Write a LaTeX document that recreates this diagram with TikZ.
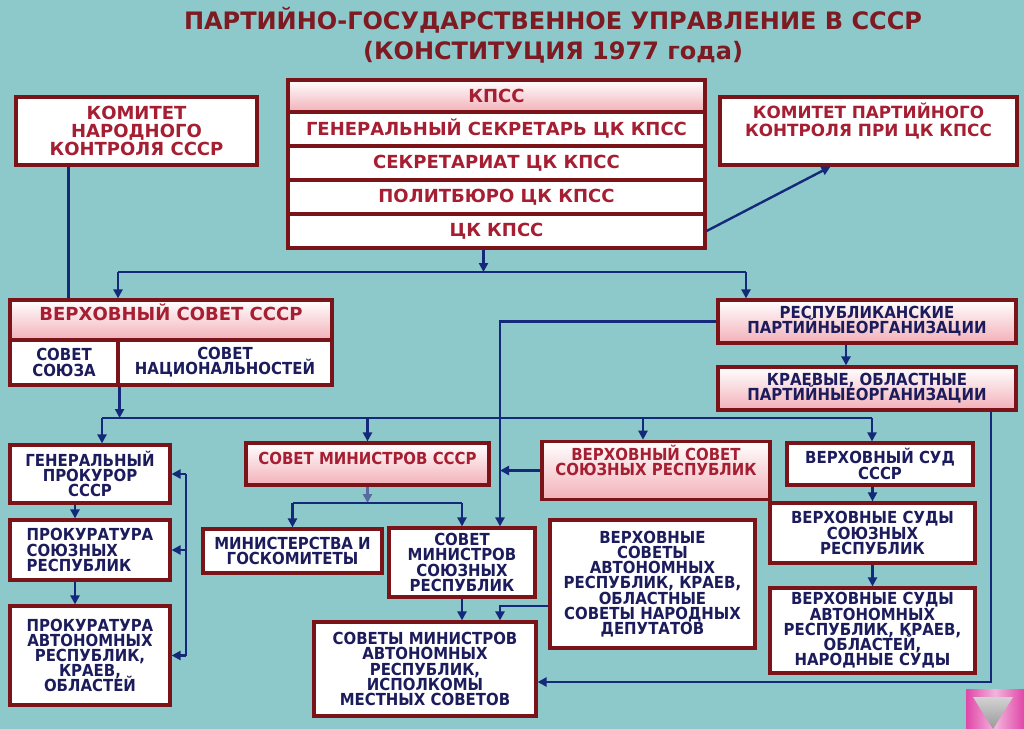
\documentclass[tikz,border=0pt]{standalone}
\usepackage{fontspec}
\setmainfont{DejaVu Sans}
\newfontfamily\narrowfont[FakeStretch=0.9]{DejaVu Sans}
\usetikzlibrary{arrows.meta,positioning}
\definecolor{bgteal}{HTML}{8DC8CA}
\definecolor{framered}{HTML}{7A1418}
\definecolor{redtext}{HTML}{A51E32}
\definecolor{titlered}{HTML}{7E1A22}
\definecolor{bluetext}{HTML}{1C1C5C}
\definecolor{linkblue}{HTML}{15297A}
\definecolor{pinkfill}{HTML}{F2B0B8}
\definecolor{btnpink}{HTML}{E046A8}
\newcommand{\tightlines}{\setlength{\lineskiplimit}{-5pt}}

\begin{document}
\begin{tikzpicture}[x=0.5pt, y=-0.5pt,
  box/.style={draw=framered, line width=1.6pt, fill=white, inner sep=2pt, align=center},
  pbox/.style={box, top color=white, bottom color=pinkfill},
  rtxt/.style={text=redtext, font=\fontsize{9}{9}\selectfont\bfseries\tightlines},
  btxt/.style={text=bluetext,
               font=\narrowfont\fontsize{8.3}{7.6}\selectfont\bfseries\tightlines},
  ntxt/.style={btxt, text=redtext},
  uptext/.style={text height=6.5pt, text depth=6.5pt},
  arr/.style={-{Triangle[length=4.5pt,width=4.5pt]}, line width=1.2pt, draw=linkblue},
  link/.style={line width=1.2pt, draw=linkblue},
]
  \useasboundingbox (0,0) rectangle (1024,729);
  \fill[bgteal] (0,0) rectangle (1024,729);

  % ── Title ─────────────────────
  \node[text=titlered, font=\fontsize{12}{15}\selectfont\bfseries, align=center]
        (title) at (553,35) {ПАРТИЙНО-ГОСУДАРСТВЕННОЕ УПРАВЛЕНИЕ В СССР\\(КОНСТИТУЦИЯ 1977 года)};

  % ── Party ─────────────────────
  \node[box, rtxt, minimum width=120.5pt, minimum height=34pt]
        (knk) at (136.5,131) {КОМИТЕТ\\НАРОДНОГО\\КОНТРОЛЯ СССР};
  \node[pbox, rtxt, minimum width=208.5pt, minimum height=16pt]
        (kpss) at (496.5,96) {КПСС};
  \node[box, rtxt, minimum width=208.5pt, minimum height=17pt, below=-1.6pt of kpss]
        (gensek) {ГЕНЕРАЛЬНЫЙ СЕКРЕТАРЬ ЦК КПСС};
  \node[box, rtxt, minimum width=208.5pt, minimum height=17pt, below=-1.6pt of gensek]
        (sekr) {СЕКРЕТАРИАТ ЦК КПСС};
  \node[box, rtxt, minimum width=208.5pt, minimum height=17pt, below=-1.6pt of sekr]
        (polit) {ПОЛИТБЮРО ЦК КПСС};
  \node[box, rtxt, minimum width=208.5pt, minimum height=17pt, below=-1.6pt of polit]
        (ckkpss) {ЦК КПСС};
  \node[box, rtxt, font=\fontsize{8.4}{9}\selectfont\bfseries,
        minimum width=148.5pt, minimum height=34pt]
        (kpk) at (868.5,131) {КОМИТЕТ ПАРТИЙНОГО\\КОНТРОЛЯ ПРИ ЦК КПСС\\\strut};
  \node[pbox, btxt, minimum width=149pt, minimum height=21.5pt]
        (rpo) at (867,321.5) {РЕСПУБЛИКАНСКИЕ\\ПАРТИЙНЫЕОРГАНИЗАЦИИ};
  \node[pbox, btxt, minimum width=149pt, minimum height=21.5pt]
        (kpo) at (867,388.5) {КРАЕВЫЕ, ОБЛАСТНЫЕ\\ПАРТИЙНЫЕОРГАНИЗАЦИИ};

  % ── Supreme Soviet ────────────
  \node[pbox, rtxt, uptext, minimum width=161pt, minimum height=20pt]
        (vs) at (171,320) {ВЕРХОВНЫЙ СОВЕТ СССР};
  \node[box, btxt, minimum width=54pt, minimum height=22.5pt]
        (sovsoyuza) at (64,362.5) {СОВЕТ\\СОЮЗА};
  \node[box, btxt, minimum width=107pt, minimum height=22.5pt]
        (sovnac) at (225,362.5) {СОВЕТ\\НАЦИОНАЛЬНОСТЕЙ};

  % ── Prosecutors ───────────────
  \node[box, btxt, minimum width=80pt, minimum height=29pt]
        (genprok) at (90,474) {ГЕНЕРАЛЬНЫЙ\\ПРОКУРОР\\СССР};
  \node[box, btxt, align=left, minimum width=80pt, minimum height=30pt]
        (prokso) at (90,550) {ПРОКУРАТУРА\\СОЮЗНЫХ\\РЕСПУБЛИК};
  \node[box, btxt, minimum width=80pt, minimum height=49.5pt]
        (prokav) at (90,655.5) {ПРОКУРАТУРА\\АВТОНОМНЫХ\\РЕСПУБЛИК,\\КРАЕВ,\\ОБЛАСТЕЙ};

  % ── Councils of ministers ─────
  \node[pbox, ntxt, uptext, minimum width=121.5pt, minimum height=21pt]
        (sm) at (367.5,464) {СОВЕТ МИНИСТРОВ СССР};
  \node[box, btxt, minimum width=89.5pt, minimum height=22pt]
        (min) at (292.5,551) {МИНИСТЕРСТВА И\\ГОСКОМИТЕТЫ};
  \node[box, btxt, minimum width=73pt, minimum height=34.5pt]
        (smsr) at (462,562.5) {СОВЕТ\\МИНИСТРОВ\\СОЮЗНЫХ\\РЕСПУБЛИК};
  \node[box, btxt, minimum width=111pt, minimum height=47pt]
        (smav) at (425,669) {СОВЕТЫ МИНИСТРОВ\\АВТОНОМНЫХ\\РЕСПУБЛИК,\\ИСПОЛКОМЫ\\МЕСТНЫХ СОВЕТОВ};

  % ── Republic soviets ──────────
  \node[pbox, ntxt, minimum width=114pt, minimum height=27.5pt]
        (vssr) at (656,470.5) {ВЕРХОВНЫЙ СОВЕТ\\СОЮЗНЫХ РЕСПУБЛИК\\\strut};
  \node[box, btxt, minimum width=102.5pt, minimum height=64pt]
        (vsav) at (652.5,584) {ВЕРХОВНЫЕ\\СОВЕТЫ\\АВТОНОМНЫХ\\РЕСПУБЛИК, КРАЕВ,\\ОБЛАСТНЫЕ\\СОВЕТЫ НАРОДНЫХ\\ДЕПУТАТОВ};

  % ── Courts ────────────────────
  \node[box, btxt, minimum width=93pt, minimum height=21pt]
        (vsud) at (880,464) {ВЕРХОВНЫЙ СУД\\СССР};
  \node[box, btxt, minimum width=102.5pt, minimum height=30pt]
        (vsudsr) at (872.5,533) {ВЕРХОВНЫЕ СУДЫ\\СОЮЗНЫХ\\РЕСПУБЛИК};
  \node[box, btxt, minimum width=102.5pt, minimum height=42.5pt]
        (vsudav) at (872.5,630.5) {ВЕРХОВНЫЕ СУДЫ\\АВТОНОМНЫХ\\РЕСПУБЛИК, КРАЕВ,\\ОБЛАСТЕЙ,\\НАРОДНЫЕ СУДЫ};

  % ── Arrows ────────────────────
  \coordinate (b1) at (118,272);
  \coordinate (b2) at (746,272);
  \coordinate (c1) at (102,418);
  \coordinate (c2) at (872,418);
  \coordinate (vline) at (500,0);
  \coordinate (pline) at (186,0);
  \coordinate (mbus) at (0,503);

  \draw[arr] ([xshift=-6.5pt]ckkpss.south) -- ([xshift=-6.5pt]ckkpss.south |- b1);
  \draw[link] (b1) -- (b2);
  \draw[arr] (b1) -- (b1 |- vs.north);
  \draw[arr] (b2) -- (b2 |- rpo.north);
  \draw[link] ([xshift=-34pt]knk.south) -- ([xshift=-34pt]knk.south |- vs.north);
  \draw[arr] (ckkpss.east) -- ([xshift=-19pt]kpk.south);
  \draw[arr] ([xshift=-10.5pt]rpo.south) -- ([xshift=-10.5pt]kpo.north);

  \draw[arr] (sovsoyuza.south east) -- (sovsoyuza.south east |- c1);
  \draw[link] (c1) -- (c2);
  \draw[arr] (c1) -- (c1 |- genprok.north);
  \draw[arr] (sm.north |- c1) -- (sm.north);
  \draw[arr] ([xshift=-6.5pt]vssr.north |- c1) -- ([xshift=-6.5pt]vssr.north);
  \draw[arr] (c2) -- (c2 |- vsud.north);

  \draw[arr] (rpo.west) -| (vline |- smsr.north);
  \draw[arr] (vssr.west) -- (vssr.west -| vline);
  \draw[arr] ([yshift=-11pt]vsav.west) -| (vline |- smav.north);
  \draw[arr] ([xshift=62pt]kpo.south) |- ([yshift=-6.5pt]smav.east);

  \draw[link] (genprok.east -| pline) -- (prokav.east -| pline);
  \draw[arr] (genprok.east -| pline) -- (genprok.east);
  \draw[arr] (prokso.east -| pline) -- (prokso.east);
  \draw[arr] (prokav.east -| pline) -- (prokav.east);
  \draw[arr] ([xshift=-7.5pt]genprok.south) -- ([xshift=-7.5pt]prokso.north);
  \draw[arr] ([xshift=-7.5pt]prokso.south) -- ([xshift=-7.5pt]prokav.north);

  \draw[arr, draw=linkblue!70] (sm.south) -- (sm.south |- mbus);
  \draw[link] (min.north |- mbus) -- (smsr.north |- mbus);
  \draw[arr] (min.north |- mbus) -- (min.north);
  \draw[arr] (smsr.north |- mbus) -- (smsr.north);
  \draw[arr] (smsr.south) -- (smsr.south |- smav.north);

  \draw[arr] (vsudsr.north |- vsud.south) -- (vsudsr.north);
  \draw[arr] (vsudsr.south) -- (vsudav.north);

  % ── Button ────────────────────
  \shade[left color=btnpink, right color=btnpink, middle color=white!60!btnpink]
        (966,689) rectangle (1024,729);
  \shade[top color=gray!35, bottom color=gray!80] (973,697) -- (1013,697) -- (993,729) -- cycle;
\end{tikzpicture}
\end{document}
